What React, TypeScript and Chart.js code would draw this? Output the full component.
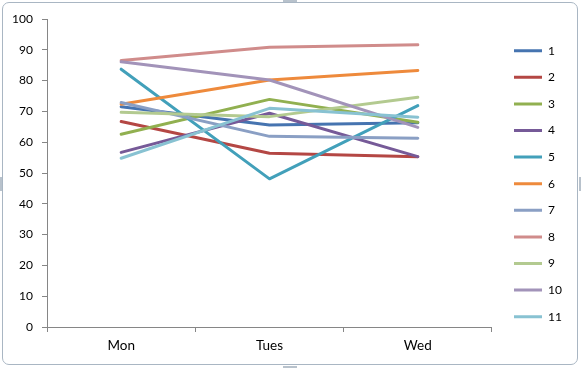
import React, { useEffect, useRef } from "react";
import { Chart, registerables } from "chart.js";

Chart.register(...registerables);

const categories = ["Mon", "Tues", "Wed"];
const seriesNames = ["1", "2", "3", "4", "5", "6", "7", "8", "9", "10", "11"];
const s1 = [71.5, 65.6, 66.3];
const s2 = [66.7, 56.4, 55.3];
const s3 = [62.6, 73.9, 66.5];
const s4 = [56.7, 69.4, 55.3];
const s5 = [83.7, 48.1, 71.9];
const s6 = [72.3, 80.2, 83.3];
const s7 = [72.9, 61.9, 61.3];
const s8 = [86.5, 90.8, 91.6];
const s9 = [69.7, 68.3, 74.6];
const s10 = [86.1, 80.2, 64.8];
const s11 = [54.8, 71.0, 68.1];
const seriesValues = [s1, s2, s3, s4, s5, s6, s7, s8, s9, s10, s11];
const seriesColors = [
  "#4674B0", "#B44744", "#91B050", "#765A98", "#42A0BA", "#EE8A3C",
  "#8A9FC4", "#D08C8B", "#B3CA90", "#A293B9", "#88C2D2",
];
const yMin = 0;
const yMax = 100;
const yStep = 10;

const FONT = "Lato, 'Open Sans', sans-serif";
const AXIS_COLOR = "#868686";
const LEGEND_PAD = 14.6;

const legendShift = {
  id: "legendShift",
  afterLayout(chart: any) {
    const lg = chart.legend;
    if (!lg) return;
    const pad = LEGEND_PAD;
    const targetX = 514;
    const dx = targetX - (lg.left + pad);
    lg.left += dx;
    lg.right = 581;
    lg.width = lg.right - lg.left;
    const colH = lg.columnSizes && lg.columnSizes[0] ? lg.columnSizes[0].height : 0;
    const y0 = (lg.top + pad + lg.bottom - colH) / 2;
    const dy = 50.7 - (y0 + 6);
    lg.top += dy;
    lg.bottom += dy;
  },
};

export default function App() {
  const ref = useRef<HTMLCanvasElement | null>(null);

  useEffect(() => {
    document.body.style.margin = "0";
    const canvas = ref.current;
    if (!canvas) return;
    const n = seriesValues.length;
    const chart = new Chart(canvas, {
      type: "line",
      data: {
        labels: categories,
        datasets: seriesValues.map((vals, i) => ({
          label: seriesNames[i],
          data: vals,
          borderColor: seriesColors[i],
          backgroundColor: seriesColors[i],
          borderWidth: 3,
          pointRadius: 0,
          pointHoverRadius: 0,
          tension: 0,
          fill: false,
          borderCapStyle: "round",
          borderJoinStyle: "round",
          order: n - 1 - i,
        })),
      },
      plugins: [legendShift],
      options: {
        responsive: false,
        animation: false,
        events: [],
        layout: { padding: { top: 19, right: 16.5, bottom: 0, left: 0 } },
        plugins: {
          tooltip: { enabled: false },
          title: { display: false },
          legend: {
            display: true,
            position: "right",
            align: "center",
            labels: {
              boxWidth: 28,
              boxHeight: 3,
              padding: LEGEND_PAD,
              color: "#000",
              font: { family: FONT, size: 12 },
              sort: (a: any, b: any) => a.datasetIndex - b.datasetIndex,
              generateLabels: (ch: any) =>
                ch.data.datasets.map((ds: any, i: number) => ({
                  text: ds.label,
                  fillStyle: ds.borderColor,
                  strokeStyle: ds.borderColor,
                  lineWidth: 0,
                  hidden: false,
                  datasetIndex: i,
                  fontColor: "#000",
                })),
            },
          },
        },
        scales: {
          x: {
            type: "category",
            offset: true,
            grid: {
              display: true,
              offset: true,
              drawOnChartArea: false,
              drawTicks: true,
              tickLength: 5,
              color: AXIS_COLOR,
            },
            border: { display: true, color: AXIS_COLOR, width: 1 },
            ticks: {
              color: "#000",
              font: { family: FONT, size: 13.5 },
              padding: 6,
              maxRotation: 0,
            },
            afterFit: (scale: any) => {
              scale.height = 41;
            },
          },
          y: {
            min: yMin,
            max: yMax,
            grid: {
              display: true,
              drawOnChartArea: false,
              drawTicks: true,
              tickLength: 5,
              color: AXIS_COLOR,
            },
            border: { display: true, color: AXIS_COLOR, width: 1 },
            ticks: {
              stepSize: yStep,
              color: "#000",
              font: { family: FONT, size: 12 },
              padding: 9,
            },
            afterFit: (scale: any) => {
              scale.width = 47;
            },
          },
        },
      },
    } as any);
    return () => chart.destroy();
  }, []);

  const handle = (style: React.CSSProperties) => (
    <div style={{ position: "absolute", background: "#b8c2cc", ...style }} />
  );

  return (
    <div style={{ position: "relative", width: 581, height: 368, background: "#fff", overflow: "hidden" }}>
      <canvas ref={ref} width={581} height={368} style={{ position: "absolute", left: 0, top: 0, width: 581, height: 368 }} />
      <div
        style={{
          position: "absolute",
          left: 2,
          top: 2,
          width: 574,
          height: 361,
          border: "1px solid #a9b6c3",
          borderRadius: 7,
          pointerEvents: "none",
        }}
      />
      {handle({ left: 283, top: 0, width: 14, height: 2 })}
      {handle({ left: 283, top: 366, width: 14, height: 2 })}
      {handle({ left: 0, top: 177, width: 2, height: 14 })}
      {handle({ left: 579, top: 177, width: 2, height: 14 })}
    </div>
  );
}
